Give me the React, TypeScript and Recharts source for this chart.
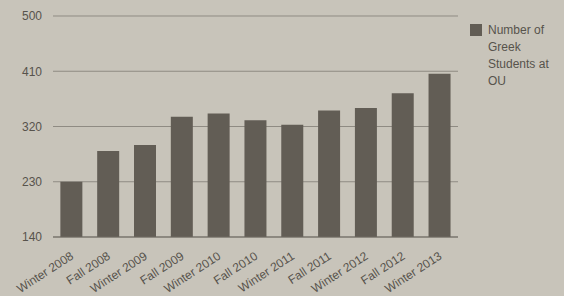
import React from 'react';
import { BarChart, Bar, XAxis, YAxis, CartesianGrid, Legend } from 'recharts';

const categories = ['Winter 2008', 'Fall 2008', 'Winter 2009', 'Fall 2009', 'Winter 2010', 'Fall 2010', 'Winter 2011', 'Fall 2011', 'Winter 2012', 'Fall 2012', 'Winter 2013'];
const students = [230, 280, 290, 336, 341, 330, 323, 346, 350, 374, 406];
const yTicks = [140, 230, 320, 410, 500];
const seriesName = 'Number of Greek Students at OU';
const legendLines = ['Number of', 'Greek', 'Students at', 'OU'];

const data = categories.map((c, i) => ({ term: c, value: students[i] }));

const FONT = '"Liberation Sans", Arial, sans-serif';
const TEXT = '#57534c';
const BAR = '#625d55';
const BG = '#c8c4ba';

const XTick = (props: any) => {
  const { x, y, payload } = props;
  const ax = x + 3;
  const ay = y + 21;
  return (
    <g transform={`translate(${ax}, ${ay})`}>
      <text
        x={0}
        y={0}
        textAnchor="end"
        fill={TEXT}
        fontSize={12}
        fontFamily={FONT}
        transform="rotate(-33)"
      >
        {payload.value}
      </text>
    </g>
  );
};

const LegendContent = () => (
  <div style={{ display: 'flex', alignItems: 'flex-start', fontFamily: FONT, fontSize: 12, color: TEXT }}>
    <div style={{ width: 12, height: 12, background: BAR, marginTop: 2, marginRight: 6, flex: 'none' }} />
    <div style={{ lineHeight: '17px' }}>
      {legendLines.map((l) => (
        <div key={l}>{l}</div>
      ))}
    </div>
  </div>
);

export default function App() {
  return (
    <div style={{ position: 'fixed', left: 0, top: 0, width: 564, height: 296, background: BG }}>
      <BarChart
        width={564}
        height={296}
        data={data}
        margin={{ top: 16, right: 106, bottom: 0, left: 0 }}
        barCategoryGap="20%"
      >
        <CartesianGrid horizontal vertical={false} stroke="#8f8b83" strokeWidth={1} />
        <XAxis
          dataKey="term"
          interval={0}
          height={59}
          tickLine={false}
          tickSize={0}
          tickMargin={0}
          axisLine={{ stroke: '#6e6a63', strokeWidth: 1.2 }}
          tick={<XTick />}
        />
        <YAxis
          width={53}
          domain={[140, 500]}
          ticks={yTicks}
          tickLine={false}
          axisLine={false}
          tickSize={0}
          tickMargin={11}
          tick={{ fill: TEXT, fontSize: 12, fontFamily: FONT }}
        />
        <Legend
          layout="vertical"
          align="center"
          verticalAlign="middle"
          content={<LegendContent />}
          wrapperStyle={{ position: 'absolute', left: 470, top: 22, width: 90 }}
        />
        <Bar dataKey="value" name={seriesName} fill={BAR} isAnimationActive={false} />
      </BarChart>
    </div>
  );
}
